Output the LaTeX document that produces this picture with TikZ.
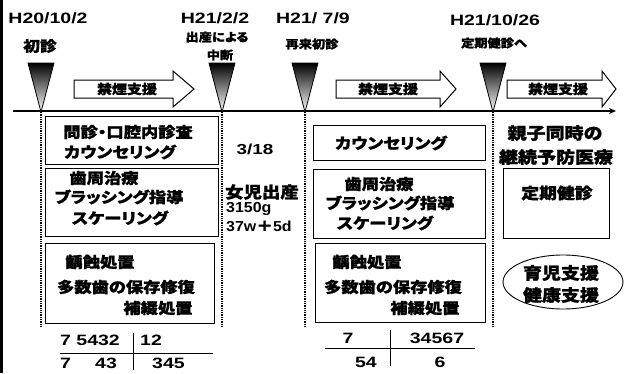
\documentclass[tikz,border=0pt]{standalone}
\usepackage{fontspec}
\usetikzlibrary{arrows.meta}
\newfontfamily\jp{Noto Sans CJK JP}[RawFeature=+palt, FakeStretch=1.15, BoldFeatures={FakeBold=1.3}]
\newfontfamily\lat{Liberation Sans}[FakeStretch=1.3]
\newfontfamily\latn{Liberation Sans}[FakeStretch=1.1]
\tikzset{
  box/.style={draw, line width=1pt, inner sep=0pt},
  jt/.style={font=\jp\bfseries\fontsize{15}{15}\selectfont, inner sep=0pt},
  jsm/.style={font=\jp\bfseries\fontsize{11.5}{11.5}\selectfont, inner sep=0pt},
  jlg/.style={font=\jp\bfseries\fontsize{16.5}{16.5}\selectfont, inner sep=0pt},
  lt/.style={font=\lat\bfseries\fontsize{15}{15}\selectfont, inner sep=0pt},
  ltn/.style={font=\latn\bfseries\fontsize{14.5}{14.5}\selectfont, inner sep=0pt},
  dotl/.style={line width=1.6pt, dash pattern=on 1.3pt off 1pt},
  tri/.style={top color=black, middle color=white, bottom color=white},
  arr/.style={draw, line width=1pt, fill=white},
}
\begin{document}
\begin{tikzpicture}[x=1pt,y=-1pt]
\useasboundingbox (0,0) rectangle (625,373);
% left border
\coordinate (lb0) at (1.5,0); \coordinate (lb1) at (1.5,373);
\draw[line width=2.5pt] (lb0) -- (lb1);
% timeline
\coordinate (tl0) at (13,111); \coordinate (tl1) at (616,111);
\draw[line width=2pt, -{Stealth[length=7pt,width=6pt]}] (tl0) -- (tl1);
% triangles and dotted lines
\foreach \n/\xx in {1/41,2/222,3/305,4/493}{
  \coordinate (t\n) at (\xx,112);
  \coordinate (d\n) at (\xx,326);
  \draw[dotl] (t\n) -- (d\n);
  \shade[tri] (\xx-13,63) -- (\xx+13,63) -- (t\n) -- cycle;
  \draw[line width=0.8pt] (\xx-13,63) -- (\xx+13,63) -- (t\n) -- cycle;
}
% block arrows
\foreach \n/\a/\b/\c in {1/74/173/194, 2/336/440/456, 3/507/602/616}{
  \draw[arr] (\a,80) -- (\b,80) -- (\b,71) -- (\c,89) -- (\b,107) -- (\b,98) -- (\a,98) -- cycle;
}
\node[jt, font=\jp\bfseries\fontsize{13}{13}\selectfont] (k1) at (127,89) {禁煙支援};
\node[jt, font=\jp\bfseries\fontsize{13}{13}\selectfont] (k2) at (388,89) {禁煙支援};
\node[jt, font=\jp\bfseries\fontsize{13}{13}\selectfont] (k3) at (558,89) {禁煙支援};
% top labels
\node[lt] (h1) at (48,18) {H20/10/2};
\node[jt, font=\jp\bfseries\fontsize{14.5}{14.5}\selectfont] (s1) at (40,46) {初診};
\node[lt] (h2) at (215,18) {H21/2/2};
\node[jsm] (s2a) at (217,37) {出産による};
\node[jsm] (s2b) at (220,55) {中断};
\node[lt] (h3) at (313,18) {H21/ 7/9};
\node[jsm] (s3) at (312,44) {再来初診};
\node[lt] (h4) at (495,20) {H21/10/26};
\node[jsm] (s4) at (494,43) {定期健診へ};
% left boxes
\draw[box] (45,116) rectangle (218,164);
\node[jt] (a1) at (128,132) {問診・口腔内診査};
\node[jt] (a2) at (120,152) {カウンセリング};
\draw[box] (45,168) rectangle (218,236);
\node[jt] (a3) at (104,178) {歯周治療};
\node[jt] (a4) at (119,197) {ブラッシング指導};
\node[jt] (a5) at (120,218) {スケーリング};
\draw[box] (45,243) rectangle (214,323);
\node[jt] (a6) at (100,262) {齲蝕処置};
\node[jt] (a7) at (126,287) {多数歯の保存修復};
\node[jt] (a8) at (158,308) {補綴処置};
% middle
\node[lt, font=\lat\bfseries\fontsize{14.5}{14.5}\selectfont] (m1) at (255,149) {3/18};
\node[jt, font=\jp\bfseries\fontsize{16}{16}\selectfont] (m2) at (262,192) {女児出産};
\node[ltn, anchor=west] (m3) at (226,209) {3150g};
\node[ltn, anchor=west] (m4) at (226,226) {37w{\jp＋}5d};
% right boxes
\draw[box] (313,125) rectangle (485,160);
\node[jt] (b1) at (391,143) {カウンセリング};
\draw[box] (313,169) rectangle (485,238);
\node[jt] (b2) at (379,184) {歯周治療};
\node[jt] (b3) at (390,203) {ブラッシング指導};
\node[jt] (b4) at (385,223) {スケーリング};
\draw[box] (315,243) rectangle (485,322);
\node[jt] (b5) at (367,262) {齲蝕処置};
\node[jt] (b6) at (393,287) {多数歯の保存修復};
\node[jt] (b7) at (425,308) {補綴処置};
% far right
\node[jlg] (c1) at (555,133) {親子同時の};
\node[jlg] (c2) at (556,157) {継続予防医療};
\draw[box] (503,168) rectangle (609,238);
\node[jt, font=\jp\bfseries\fontsize{15.5}{15.5}\selectfont] (c3) at (557,193) {定期健診};
\draw[line width=0.9pt] (563,282) ellipse [x radius=60, y radius=27];
\node[jlg] (c4) at (561,273) {育児支援};
\node[jlg] (c5) at (561,295) {健康支援};
% dental formula left
\node[lt, anchor=west] (f1) at (60,340) {7 5432};
\node[lt, anchor=west] (f2) at (140,340) {12};
\node[lt, anchor=west] (f3) at (60,363) {7};
\node[lt, anchor=west] (f4) at (95,363) {43};
\node[lt, anchor=west] (f5) at (152,363) {345};
\coordinate (fv0) at (133,333); \coordinate (fv1) at (133,370);
\coordinate (fh0) at (60,353); \coordinate (fh1) at (213,353);
\draw[line width=0.9pt] (fv0) -- (fv1);
\draw[line width=0.9pt] (fh0) -- (fh1);
% dental formula right
\node[lt] (g1) at (348,338) {7};
\node[lt] (g2) at (437,338) {34567};
\node[lt] (g3) at (366,362) {54};
\node[lt] (g4) at (440,362) {6};
\coordinate (gv0) at (390,330); \coordinate (gv1) at (390,366);
\coordinate (gh0) at (325,348); \coordinate (gh1) at (475,348);
\draw[line width=0.9pt] (gv0) -- (gv1);
\draw[line width=0.9pt] (gh0) -- (gh1);
\end{tikzpicture}
\end{document}
